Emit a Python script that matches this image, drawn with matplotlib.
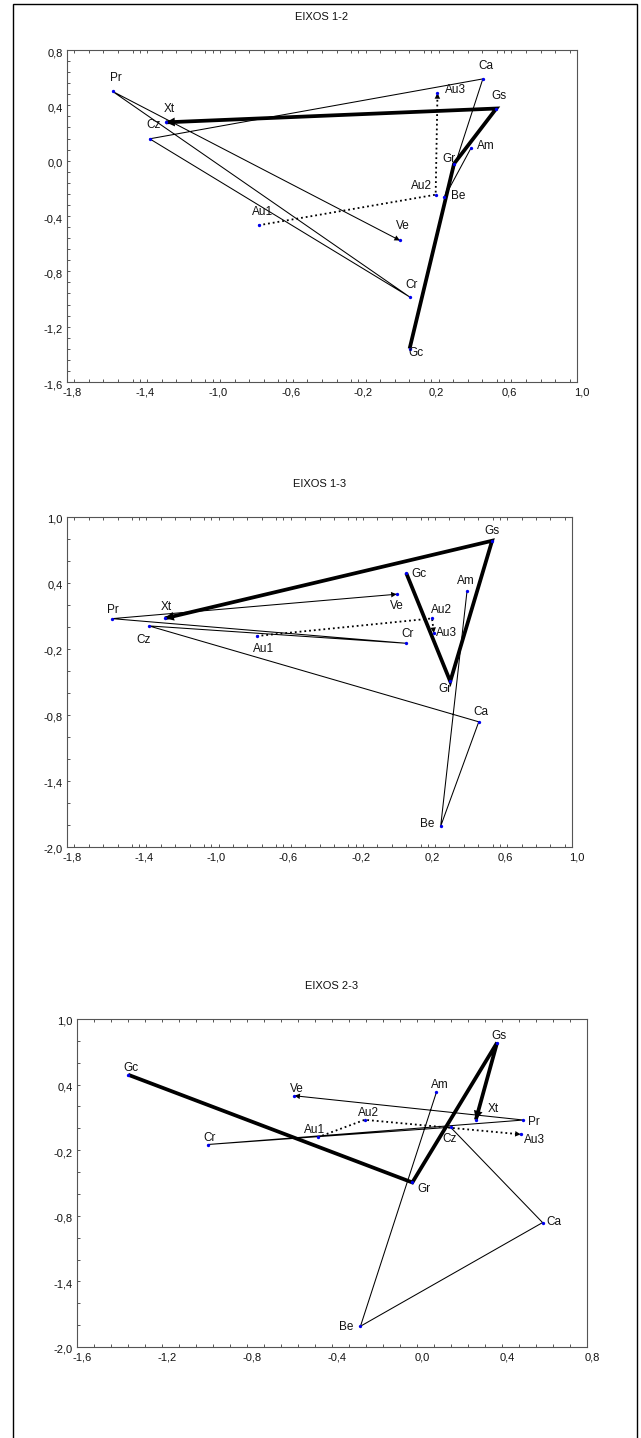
import numpy as np
import matplotlib.pyplot as plt
from matplotlib.patches import Rectangle
from matplotlib.ticker import MultipleLocator
from matplotlib.transforms import ScaledTranslation

plt.rcParams['font.family'] = ['Liberation Sans', 'DejaVu Sans']

# categories and their coordinates on the first three axes
labels = ['Pr', 'Xt', 'Cz', 'Au1', 'Ca', 'Au3', 'Gs', 'Am', 'Gr', 'Au2', 'Be', 'Ve', 'Cr', 'Gc']
eixo1 = [-1.550, -1.257, -1.346, -0.748, 0.483, 0.234, 0.557, 0.418, 0.325, 0.224, 0.272, 0.028, 0.081, 0.081]
eixo2 = [0.501, 0.277, 0.158, -0.467, 0.591, 0.488, 0.377, 0.091, -0.022, -0.246, -0.266, -0.577, -0.985, -1.359]
eixo3 = [0.076, 0.079, 0.010, -0.082, -0.862, -0.055, 0.784, 0.328, -0.495, 0.078, -1.810, 0.298, -0.148, 0.490]

# trajectories, each one ends with an arrow
trajeto_fino = ['Am', 'Be', 'Ca', 'Cz', 'Cr', 'Pr', 'Ve']
trajeto_grosso = ['Gc', 'Gr', 'Gs', 'Xt']
trajeto_pontos = ['Au1', 'Au2', 'Au3']

# tick values
ticks_eixo1 = [-1.8, -1.4, -1.0, -0.6, -0.2, 0.2, 0.6, 1.0]
ticks_eixo2_y = [-1.6, -1.2, -0.8, -0.4, 0.0, 0.4, 0.8]
ticks_eixo2_x = [-1.6, -1.2, -0.8, -0.4, 0.0, 0.4, 0.8]
ticks_eixo3 = [-2.0, -1.4, -0.8, -0.2, 0.4, 1.0]

W, H = 641, 1438
fig = plt.figure(figsize=(W / 100, H / 100), dpi=100)

# label offsets in pixels (dx right, dy down) from each point
off_12 = {'Pr': (3, -13), 'Xt': (3, -13), 'Cz': (4, -14), 'Au1': (4, -13), 'Ca': (3, -13),
          'Au3': (18, -3), 'Gs': (3, -13), 'Am': (15, -2), 'Gr': (-5, -5), 'Au2': (-14, -9),
          'Be': (14, -1), 'Ve': (3, -14), 'Cr': (2, -12), 'Gc': (6, 4)}
off_13 = {'Pr': (1, -9), 'Xt': (1, -11), 'Cz': (-5, 14), 'Au1': (7, 13), 'Gs': (0, -10),
          'Gc': (13, 1), 'Am': (-1, -10), 'Ve': (0, 12), 'Au2': (9, -8), 'Au3': (13, 0),
          'Cr': (1, -9), 'Gr': (-5, 8), 'Ca': (2, -10), 'Be': (-14, -2)}
off_23 = {'Gc': (3, -7), 'Ve': (2, -7), 'Cr': (2, -7), 'Au1': (-3, -7), 'Gs': (2, -7),
          'Am': (4, -7), 'Au2': (4, -7), 'Xt': (17, -11), 'Pr': (10, 2), 'Cz': (-1, 12),
          'Au3': (14, 6), 'Gr': (12, 7), 'Ca': (11, -1), 'Be': (-14, 1)}

# (title, x, y, xticks, yticks, x minor, y minor, box px: left, top, right, bottom, offsets)
paineis = [
    ('EIXOS 1-2', eixo1, eixo2, ticks_eixo1, ticks_eixo2_y, 0.08, 0.08, (67, 50, 577, 382), off_12),
    ('EIXOS 1-3', eixo1, eixo3, ticks_eixo1, ticks_eixo3, 0.08, 0.2, (67, 517, 572, 847), off_13),
    ('EIXOS 2-3', eixo2, eixo3, ticks_eixo2_x, ticks_eixo3, 0.08, 0.2, (77, 1019, 587, 1347), off_23),
]


def fmt(v):
    return ('%.1f' % v).replace('.', ',')


def trajeto(ax, xs, ys, nomes, ls, lw, escala):
    idx = [labels.index(n) for n in nomes]
    px = [xs[i] for i in idx]
    py = [ys[i] for i in idx]
    ax.plot(px, py, color='black', lw=lw, ls=ls, solid_joinstyle='miter',
            solid_capstyle='butt', zorder=2)
    ax.annotate('', xy=(px[-1], py[-1]), xytext=(px[-2], py[-2]),
                arrowprops=dict(arrowstyle='-|>', color='black', lw=0,
                                mutation_scale=escala, shrinkA=0, shrinkB=0),
                zorder=3)


for titulo, xs, ys, xt, yt, xmin_step, ymin_step, box, off in paineis:
    l, t, r, b = box
    ax = fig.add_axes([l / W, 1 - b / H, (r - l) / W, (b - t) / H])
    ax.set_xlim(xt[0], xt[-1])
    ax.set_ylim(yt[0], yt[-1])
    ax.set_xticks(xt, [fmt(v) for v in xt])
    ax.set_yticks(yt, [fmt(v) for v in yt])
    ax.xaxis.set_minor_locator(MultipleLocator(xmin_step))
    ax.yaxis.set_minor_locator(MultipleLocator(ymin_step))
    ax.tick_params(which='both', direction='in', length=2.5, width=0.7, color='#555555',
                   top=True, right=False, labelsize=8, pad=3, labelcolor='#111111')
    for s in ax.spines.values():
        s.set_color('#555555')
        s.set_linewidth(0.8)
    # statistica style: x labels sit a bit to the right, y labels a bit low
    for lab in ax.get_xticklabels():
        lab.set_transform(lab.get_transform() + ScaledTranslation(0.05, -0.01, fig.dpi_scale_trans))
    for lab in ax.get_yticklabels():
        lab.set_transform(lab.get_transform() + ScaledTranslation(0, -0.02, fig.dpi_scale_trans))

    trajeto(ax, xs, ys, trajeto_fino, '-', 0.75, 10)
    trajeto(ax, xs, ys, trajeto_pontos, ':', 1.3, 10)
    trajeto(ax, xs, ys, trajeto_grosso, '-', 2.7, 16)

    ax.plot(xs, ys, 'o', color='#0000ee', ms=2.4, mew=0, zorder=4)
    for i, nome in enumerate(labels):
        dx, dy = off[nome]
        ax.annotate(nome, (xs[i], ys[i]), xytext=(dx * 0.72, -dy * 0.72),
                    textcoords='offset points', ha='center', va='center',
                    fontsize=8.5, color='#111111', zorder=5)

    fig.text((l + r) / 2 / W, 1 - (t - 33) / H, titulo, ha='center', va='center',
             fontsize=8, color='#111111')

# frame around the whole page
fig.add_artist(Rectangle((12.5 / W, -0.01), (637 - 12.5) / W, 1.01 - 4 / H,
                         transform=fig.transFigure, fill=False, lw=1.0, ec='black'))

plt.savefig('out.png', dpi=100)
